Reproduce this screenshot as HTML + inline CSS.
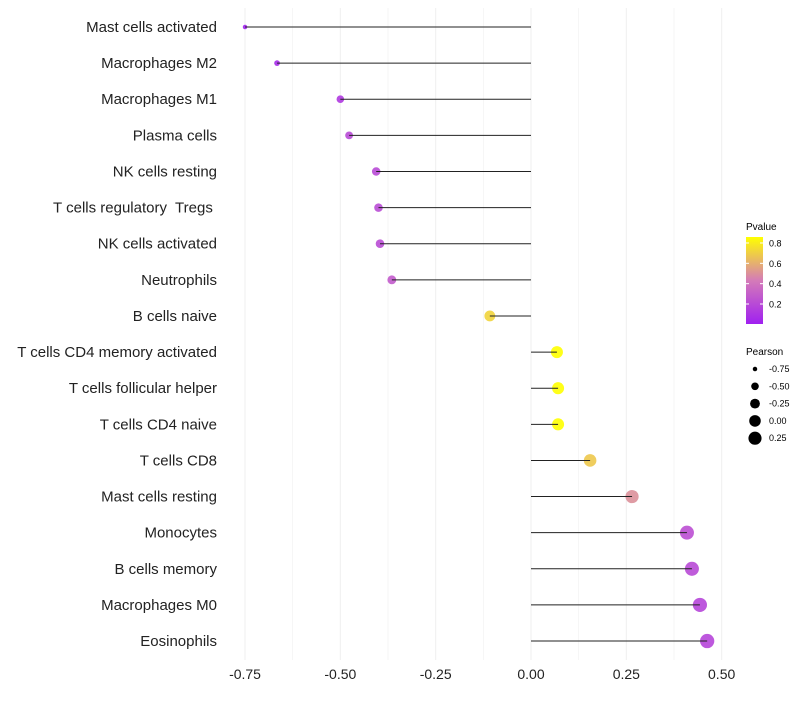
<!DOCTYPE html>
<html><head><meta charset="utf-8"><style>
body{margin:0;background:#fff;font-family:"Liberation Sans",sans-serif}
</style></head><body>
<svg id="chart" width="800" height="700" xmlns="http://www.w3.org/2000/svg">
<defs><linearGradient id="pg" x1="0" y1="1" x2="0" y2="0">
<stop offset="0" stop-color="#a020f0"/><stop offset="0.5" stop-color="#d47bb8"/><stop offset="1" stop-color="#ffff00"/></linearGradient></defs>
<g id="grid"></g>
<g id="dots"></g>
<g id="marks"></g>
<g id="ylabels"></g>
<g id="xlabels"></g>
<g font-size="10" fill="#000">
<text x="746" y="230">Pvalue</text>
<rect x="746" y="237" width="17" height="87" fill="url(#pg)"/>
<g id="cbticks"></g>
</g>
<g id="sizeleg" font-size="9">
<text x="746" y="355" font-size="10">Pearson</text>
</g>
</svg>
<script>
const categories=["Mast cells activated","Macrophages M2","Macrophages M1","Plasma cells","NK cells resting","T cells regulatory  Tregs ","NK cells activated","Neutrophils","B cells naive","T cells CD4 memory activated","T cells follicular helper","T cells CD4 naive","T cells CD8","Mast cells resting","Monocytes","B cells memory","Macrophages M0","Eosinophils"];
const pearson=[-0.75,-0.666,-0.50,-0.477,-0.406,-0.40,-0.396,-0.365,-0.108,0.068,0.071,0.071,0.155,0.265,0.409,0.422,0.443,0.462];
const pvalue=[0.01,0.05,0.12,0.2,0.2,0.21,0.21,0.28,0.72,0.86,0.86,0.86,0.68,0.5,0.22,0.2,0.18,0.18];
const xTicks=[-0.75,-0.5,-0.25,0,0.25,0.5];
const xTickLabels=["-0.75","-0.50","-0.25","0.00","0.25","0.50"];
const pTicks=[0.2,0.4,0.6,0.8];
const sizeLegend=[-0.75,-0.5,-0.25,0,0.25];
const sizeLegendLabels=["-0.75","-0.50","-0.25","0.00","0.25"];
const NS="http://www.w3.org/2000/svg";
const x=v=>531+v*381.3;
const y=i=>27+i*36.12;
const py=p=>304-(p-0.2)*101.7;
const rad=v=>Math.sqrt(5+38*(v+0.75));
function lerp(a,b,t){return a+(b-a)*t}
function col(p){const t=Math.max(0,Math.min(1,p/0.86));const s=[[160,32,240],[212,123,184],[255,255,0]];let a,b,u;if(t<0.5){a=s[0];b=s[1];u=t/0.5}else{a=s[1];b=s[2];u=(t-0.5)/0.5}return `rgb(${[0,1,2].map(k=>Math.round(lerp(a[k],b[k],u))).join(',')})`}
function mk(t,at,parent){const e=document.createElementNS(NS,t);for(const k in at)e.setAttribute(k,at[k]);parent.appendChild(e);return e}
const grid=document.getElementById('grid'),marks=document.getElementById('marks'),dots=document.getElementById('dots'),yl=document.getElementById('ylabels'),xl=document.getElementById('xlabels');
for(let v=-0.875;v<=0.51;v+=0.125){if(x(v)<228)continue;const g=mk('line',{x1:x(v),x2:x(v),y1:8,y2:660,stroke:'#efefef','stroke-width':Math.abs(v*4-Math.round(v*4))<0.01?1:0.6},grid);}
xTicks.forEach((v,i)=>{const t=mk('text',{x:x(v),y:679,'text-anchor':'middle','font-size':14,fill:'#222'},xl);t.textContent=xTickLabels[i];});
categories.forEach((c,i)=>{
const t=mk('text',{x:217,y:y(i)+5,'text-anchor':'end','font-size':15,fill:'#222',style:'white-space:pre'},yl);t.textContent=c;

const d=mk('circle',{cx:x(pearson[i]),cy:y(i),r:rad(pearson[i]),fill:col(pvalue[i]),'fill-opacity':0.9},dots);

const l=mk('line',{x1:x(0),x2:x(pearson[i]),y1:y(i),y2:y(i),stroke:'#222','stroke-width':1},marks);

});
const cb=document.getElementById('cbticks');
pTicks.forEach(p=>{mk('line',{x1:746,x2:749,y1:py(p),y2:py(p),stroke:'#fff'},cb);mk('line',{x1:760,x2:763,y1:py(p),y2:py(p),stroke:'#fff'},cb);
const t=mk('text',{x:769,y:py(p)+3.5,'font-size':9},cb);t.textContent=p.toFixed(1);});
const sl=document.getElementById('sizeleg');
sizeLegend.forEach((v,i)=>{const cy=369+i*17.3;const c=mk('circle',{cx:755,cy:cy,r:rad(v),fill:'#000'},sl);
const t=mk('text',{x:769,y:cy+3,'font-size':9},sl);t.textContent=sizeLegendLabels[i];});
</script>
</body></html>
